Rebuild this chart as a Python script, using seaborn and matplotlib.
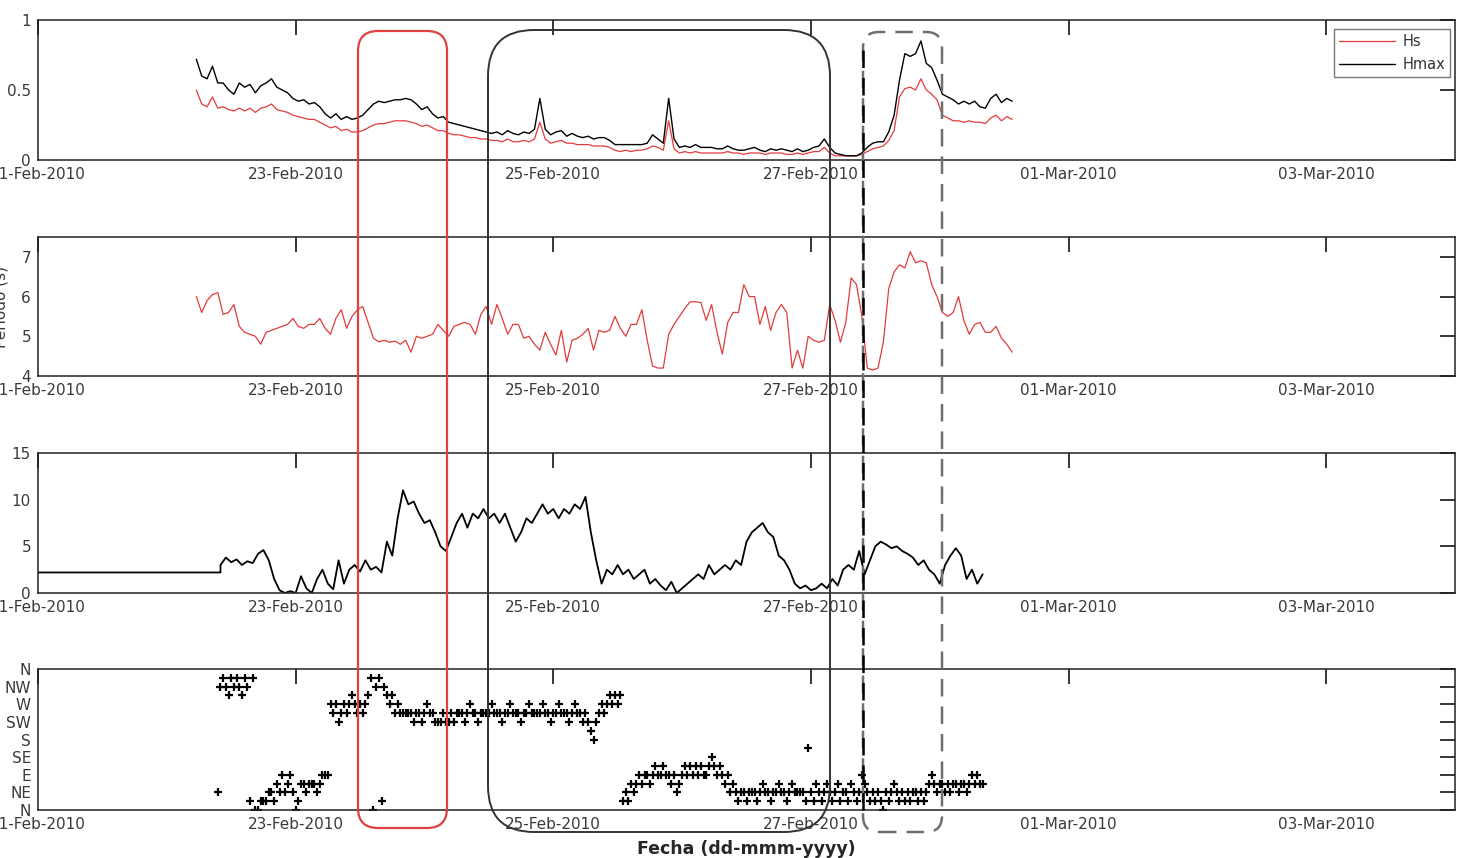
import numpy as np
import pandas as pd
import matplotlib
matplotlib.use("Agg")
import matplotlib.pyplot as plt
import matplotlib.dates as mdates
from matplotlib.patches import FancyBboxPatch
from matplotlib.lines import Line2D
from matplotlib.transforms import IdentityTransform
import seaborn as sns

# ---------------- data ----------------
wave_start = "2010-02-22 05:30"
wave_step = "1h"
hs = [0.50,0.40,0.38,0.45,0.37,0.38,0.36,0.35,0.37,0.35,
      0.37,0.34,0.37,0.38,0.40,0.36,0.35,0.34,0.32,0.31,
      0.30,0.29,0.29,0.27,0.25,0.23,0.24,0.21,0.22,0.20,
      0.20,0.21,0.23,0.25,0.26,0.26,0.27,0.28,0.28,0.28,
      0.27,0.26,0.24,0.25,0.23,0.21,0.21,0.19,0.18,0.18,
      0.17,0.16,0.16,0.15,0.15,0.14,0.14,0.13,0.15,0.13,
      0.13,0.14,0.13,0.15,0.27,0.15,0.12,0.13,0.14,0.12,
      0.12,0.11,0.11,0.11,0.10,0.10,0.10,0.09,0.07,0.06,
      0.07,0.06,0.07,0.07,0.08,0.10,0.09,0.07,0.28,0.08,
      0.05,0.06,0.05,0.06,0.05,0.05,0.05,0.05,0.05,0.06,
      0.05,0.05,0.04,0.05,0.05,0.05,0.04,0.05,0.05,0.05,
      0.04,0.04,0.05,0.04,0.05,0.06,0.06,0.09,0.05,0.03,
      0.03,0.03,0.03,0.03,0.04,0.06,0.08,0.09,0.10,0.14,
      0.21,0.45,0.51,0.52,0.50,0.58,0.50,0.47,0.43,0.32,
      0.30,0.28,0.28,0.27,0.28,0.27,0.27,0.26,0.30,0.32,
      0.28,0.31,0.29]
hmax = [0.72,0.60,0.58,0.67,0.55,0.55,0.50,0.47,0.55,0.52,
        0.54,0.48,0.53,0.55,0.58,0.52,0.50,0.48,0.44,0.42,
        0.43,0.40,0.41,0.38,0.33,0.30,0.33,0.29,0.31,0.29,
        0.30,0.32,0.36,0.40,0.42,0.41,0.42,0.43,0.43,0.44,
        0.43,0.40,0.36,0.38,0.33,0.30,0.31,0.27,0.26,0.25,
        0.24,0.23,0.22,0.21,0.20,0.19,0.20,0.18,0.21,0.19,
        0.18,0.20,0.19,0.22,0.44,0.22,0.18,0.20,0.21,0.17,
        0.19,0.17,0.16,0.17,0.15,0.16,0.16,0.14,0.11,0.11,
        0.11,0.11,0.11,0.11,0.12,0.18,0.15,0.12,0.44,0.15,
        0.09,0.10,0.09,0.11,0.09,0.09,0.09,0.08,0.08,0.10,
        0.08,0.07,0.07,0.08,0.09,0.07,0.06,0.08,0.07,0.08,
        0.07,0.06,0.08,0.06,0.07,0.09,0.10,0.15,0.09,0.05,
        0.04,0.03,0.03,0.03,0.05,0.09,0.12,0.13,0.13,0.20,
        0.32,0.57,0.76,0.74,0.76,0.85,0.69,0.66,0.57,0.47,
        0.45,0.43,0.40,0.42,0.40,0.42,0.38,0.37,0.44,0.47,
        0.41,0.44,0.42]
tp = [6.0,5.6,5.9,6.05,6.1,5.55,5.6,5.8,5.25,5.1,
      5.05,5.0,4.8,5.1,5.15,5.2,5.25,5.3,5.45,5.25,
      5.2,5.3,5.3,5.45,5.2,5.05,5.45,5.67,5.2,5.5,
      5.67,5.75,5.35,4.95,4.86,4.9,4.85,4.88,4.8,4.9,
      4.6,5.0,4.95,5.0,5.05,5.3,5.15,5.0,5.25,5.3,
      5.35,5.3,5.05,5.55,5.75,5.3,5.8,5.45,5.05,5.3,
      5.3,4.95,5.0,4.8,4.65,5.1,4.8,4.53,5.15,4.35,
      4.9,4.95,5.05,5.2,4.65,5.15,5.1,5.15,5.5,5.2,
      5.0,5.3,5.3,5.67,4.9,4.25,4.2,4.2,5.05,5.3,
      5.5,5.7,5.87,5.87,5.85,5.4,5.8,5.1,4.55,5.35,
      5.6,5.6,6.3,6.0,6.0,5.3,5.75,5.15,5.6,5.8,
      5.6,4.2,4.65,4.2,5.0,4.9,4.85,4.9,5.8,5.4,
      4.85,5.35,6.47,6.3,5.5,4.2,4.15,4.2,4.85,6.2,
      6.62,6.8,6.72,7.13,6.85,6.9,6.85,6.3,6.0,5.6,
      5.5,5.6,6.0,5.4,5.05,5.3,5.35,5.1,5.1,5.25,
      4.95,4.8,4.6]

wind_fill_times = ["2010-02-21 00:00", "2010-02-22 10:00"]
wind_fill = [2.2, 2.2]
wind_start = "2010-02-22 10:00"
wind_step = "1h"
wind_speed = [3.0,3.8,3.3,3.6,3.0,3.4,3.2,4.2,4.6,3.5,
              1.5,0.3,0.0,0.2,0.0,1.8,0.5,0.0,1.5,2.5,
              1.0,0.4,3.5,1.0,2.5,3.0,2.3,3.5,2.5,2.8,
              2.2,5.5,4.0,8.0,11.0,9.5,9.8,8.5,7.5,7.8,
              6.5,5.0,4.5,6.0,7.5,8.5,7.0,8.5,8.0,9.0,
              8.0,8.5,7.5,8.5,7.0,5.5,6.5,8.0,7.5,8.5,
              9.5,8.5,9.0,8.0,9.0,8.5,9.5,9.0,10.3,6.5,
              3.5,1.0,2.5,2.0,3.0,2.0,2.5,1.5,2.0,2.5,
              1.0,1.5,0.8,0.3,1.2,0.0,0.5,1.0,1.5,2.0,
              1.5,3.0,2.0,2.5,3.0,2.5,3.5,3.0,5.5,6.5,
              7.0,7.5,6.5,6.0,4.0,3.5,2.5,1.0,0.5,0.8,
              0.3,0.5,1.0,0.5,1.5,0.8,2.5,3.0,2.5,4.5,
              2.0,3.5,5.0,5.5,5.2,4.8,5.0,4.5,4.2,3.8,
              3.0,3.5,2.5,2.0,1.0,3.0,4.0,4.8,4.0,1.5,
              2.5,1.0,2.0]

dir_start = "2010-02-22 09:30"
dir_step = "30min"
wind_dir = [45,315,337.5,315,292.5,337.5,315,337.5,315,292.5,
            337.5,315,22.5,337.5,0,0,22.5,22.5,22.5,45,
            45,22.5,67.5,45,90,45,67.5,90,45,0,
            22.5,67.5,67.5,45,67.5,67.5,67.5,45,67.5,90,
            90,90,270,247.5,270,225,247.5,270,247.5,270,
            292.5,270,247.5,270,247.5,270,292.5,337.5,0,315,
            337.5,22.5,315,292.5,270,292.5,247.5,270,247.5,247.5,
            247.5,247.5,247.5,225,247.5,247.5,225,247.5,270,247.5,
            247.5,225,225,225,247.5,225,225,247.5,225,247.5,
            247.5,247.5,225,247.5,270,247.5,247.5,225,247.5,247.5,
            247.5,247.5,270,247.5,247.5,247.5,225,247.5,247.5,270,
            247.5,247.5,247.5,225,247.5,247.5,270,247.5,247.5,247.5,
            247.5,270,247.5,247.5,225,247.5,247.5,270,247.5,247.5,
            247.5,225,247.5,270,247.5,247.5,225,247.5,225,202.5,
            180,225,247.5,270,247.5,270,292.5,270,292.5,270,
            292.5,22.5,45,22.5,67.5,45,67.5,90,67.5,90,
            90,67.5,90,112.5,90,90,112.5,90,90,67.5,
            90,45,67.5,90,112.5,90,112.5,90,112.5,90,
            112.5,90,90,112.5,135,112.5,90,112.5,90,67.5,
            90,45,67.5,45,22.5,45,45,22.5,45,45,
            45,22.5,45,67.5,45,45,22.5,45,45,67.5,
            45,45,22.5,45,67.5,45,45,45,45,22.5,
            157.5,45,22.5,67.5,45,22.5,45,67.5,45,22.5,
            45,67.5,22.5,45,45,22.5,67.5,45,22.5,45,
            90,67.5,45,22.5,45,22.5,45,22.5,0,45,
            22.5,45,67.5,45,22.5,45,22.5,45,22.5,45,
            45,22.5,45,22.5,45,67.5,90,67.5,45,67.5,
            67.5,45,67.5,45,67.5,67.5,45,67.5,67.5,45,
            67.5,90,67.5,90,67.5,67.5]

xtick_dates = ["2010-02-21", "2010-02-23", "2010-02-25",
               "2010-02-27", "2010-03-01", "2010-03-03"]
x_limits = ["2010-02-21", "2010-03-04"]
dir_ticks = [0, 45, 90, 135, 180, 225, 270, 315, 360]
dir_labels = ["N", "NE", "E", "SE", "S", "SW", "W", "NW", "N"]

# ---------------- frames ----------------
wave_time = pd.date_range(wave_start, periods=len(hs), freq=wave_step)
wave_df = pd.DataFrame({"time": wave_time, "Hs": hs, "Hmax": hmax, "Tp": tp})
wind_df = pd.concat([
    pd.DataFrame({"time": pd.to_datetime(wind_fill_times), "U": wind_fill}),
    pd.DataFrame({"time": pd.date_range(wind_start, periods=len(wind_speed), freq=wind_step),
                  "U": wind_speed}),
], ignore_index=True)
dir_df = pd.DataFrame({"time": pd.date_range(dir_start, periods=len(wind_dir), freq=dir_step),
                       "Dir": wind_dir})

# ---------------- style ----------------
sns.set_style("white")
plt.rcParams["font.family"] = ["DejaVu Sans"]

W, H = 1458, 858
fig = plt.figure(figsize=(W / 100, H / 100), dpi=100)

def px_axes(top, bottom, left=38, right=1455):
    return fig.add_axes([left / W, 1 - bottom / H, (right - left) / W, (bottom - top) / H])

ax1 = px_axes(20, 160)
ax2 = px_axes(237, 376)
ax3 = px_axes(453, 593)
ax4 = px_axes(669, 810)
axes = [ax1, ax2, ax3, ax4]

red = "#e23b3b"
sns.lineplot(data=wave_df, x="time", y="Hs", ax=ax1, color=red, lw=0.9,
             estimator=None, errorbar=None, label="Hs")
sns.lineplot(data=wave_df, x="time", y="Hmax", ax=ax1, color="black", lw=1.0,
             estimator=None, errorbar=None, label="Hmax")
sns.lineplot(data=wave_df, x="time", y="Tp", ax=ax2, color=red, lw=0.9,
             estimator=None, errorbar=None, legend=False)
sns.lineplot(data=wind_df, x="time", y="U", ax=ax3, color="black", lw=1.3,
             estimator=None, errorbar=None, sort=False, legend=False)
sns.scatterplot(data=dir_df, x="time", y="Dir", ax=ax4, marker="+", color="black",
                s=28, linewidth=1.6, legend=False)

for ax in axes:
    ax.set_xlim(pd.to_datetime(x_limits[0]), pd.to_datetime(x_limits[1]))
    ax.set_xticks(pd.to_datetime(xtick_dates))
    ax.xaxis.set_major_formatter(mdates.DateFormatter("%d-%b-%Y"))
    ax.tick_params(direction="in", length=11, width=1.1, top=True, right=True,
                   labelsize=11, labelcolor="#3a3a3a", color="black", pad=5)
    ax.set_xlabel("")
    ax.set_ylabel("")
    for s in ax.spines.values():
        s.set_color("#222222")
        s.set_linewidth(1.1)

ax1.set_ylim(0, 1)
ax1.set_yticks([0, 0.5, 1])
ax1.set_yticklabels(["0", "0.5", "1"])
ax2.set_ylim(4, 7.5)
ax2.set_yticks([4, 5, 6, 7])
ax3.set_ylim(0, 15)
ax3.set_yticks([0, 5, 10, 15])
ax4.set_ylim(0, 360)
ax4.set_yticks(dir_ticks)
ax4.set_yticklabels(dir_labels)
ax4.set_xlabel("Fecha (dd-mmm-yyyy)", fontsize=12.5, fontweight="bold", labelpad=6)

ax2.set_ylabel("Periodo (s)", fontsize=11, color="#3a3a3a")
ax2.yaxis.set_label_coords(-0.021, 0.5)

leg = ax1.legend(loc="upper right", bbox_to_anchor=(0.9965, 0.936), borderaxespad=0,
                 frameon=True, fancybox=False, edgecolor="#555555", fontsize=10.5,
                 handlelength=3.8, borderpad=0.35, labelspacing=0.55, handletextpad=0.5)
leg.get_frame().set_linewidth(1.0)
for t in leg.get_texts():
    t.set_color("#333333")

# ---------------- overlay boxes (figure pixel coords, y from top) ----------------
def rbox(x0, y0, x1, y1, r, **kw):
    p = FancyBboxPatch((x0 + r, H - y1 + r), (x1 - x0) - 2 * r, (y1 - y0) - 2 * r,
                       boxstyle=f"round,pad={r},rounding_size={r}",
                       transform=IdentityTransform(), fill=False, **kw)
    fig.add_artist(p)

rbox(358, 31, 447, 828, 20, edgecolor="#e04040", lw=1.6)
rbox(488, 30, 830, 832, 46, edgecolor="#333333", lw=1.4)
rbox(863, 32, 942, 832, 16, edgecolor="#6f6f6f", lw=1.8, linestyle=(0, (7, 4)))
fig.add_artist(Line2D([863, 863], [H - 50, H - 815], transform=IdentityTransform(),
                      color="black", lw=1.8, linestyle=(0, (7, 4))))

fig.savefig("out.png", dpi=100)
